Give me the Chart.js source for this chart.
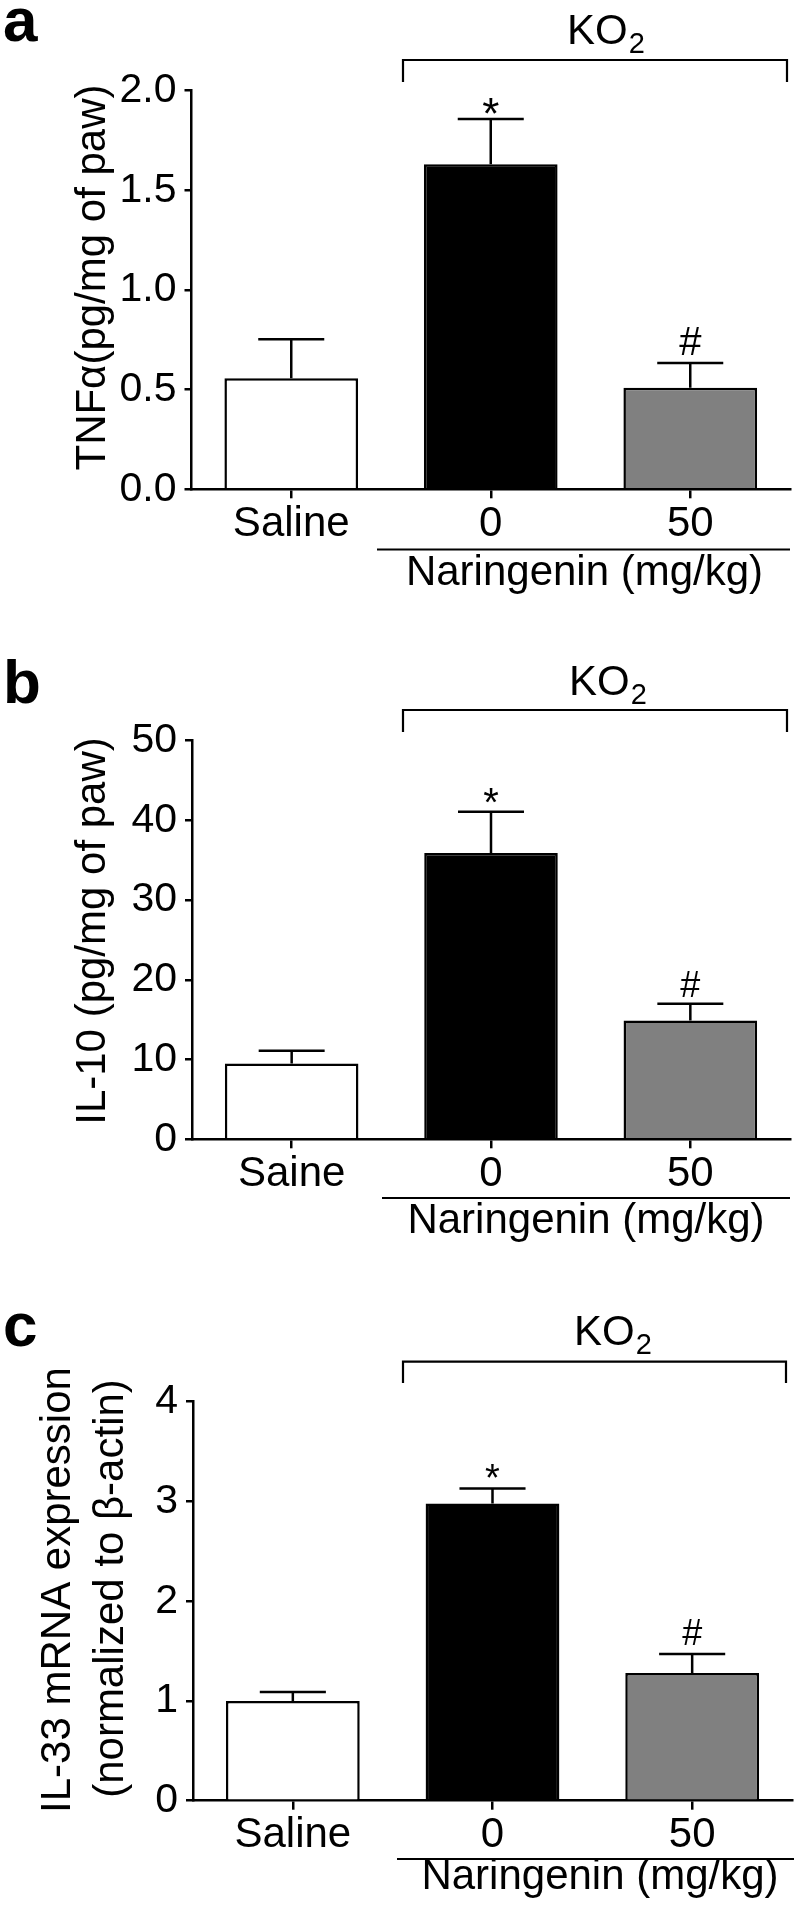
<!DOCTYPE html>
<html><head><meta charset="utf-8">
<script src="https://cdn.jsdelivr.net/npm/chart.js@4.4.1/dist/chart.umd.min.js"></script>
<style>
html,body{margin:0;padding:0;background:#fff;width:800px;height:1909px;overflow:hidden;position:relative;}
canvas{position:absolute;left:0;}
</style></head><body>
<canvas id="ca" width="800" height="650" style="top:0px"></canvas>
<canvas id="cb" width="800" height="661" style="top:650px"></canvas>
<canvas id="cc" width="800" height="598" style="top:1311px"></canvas>
<script>
// ---- data ----
const groupsA = ['Saline', '0', '50'];
const groupsB = ['Saine', '0', '50'];
const groupsC = ['Saline', '0', '50'];
const tnfMean = [0.557, 1.631, 0.510];
const tnfSem  = [0.196, 0.227, 0.124];
const il10Mean = [9.5, 35.9, 14.9];
const il10Sem  = [1.6, 5.2, 2.1];
const il33Mean = [1.0, 2.98, 1.28];
const il33Sem  = [0.09, 0.15, 0.19];
const ticksA = [0, 0.5, 1.0, 1.5, 2.0];
const tickLabelsA = ['0.0', '0.5', '1.0', '1.5', '2.0'];
const ticksB = [0, 10, 20, 30, 40, 50];
const tickLabelsB = ['0', '10', '20', '30', '40', '50'];
const ticksC = [0, 1, 2, 3, 4];
const tickLabelsC = ['0', '1', '2', '3', '4'];
const signif = ['', '*', '#'];
const groupText = 'KO';
const groupSub = '2';
const doseText = 'Naringenin (mg/kg)';

// ---- styles / layout ----
const FONT = '"Liberation Sans", Arial, Helvetica, sans-serif';
const STYLE = { fills: ['#ffffff', '#000000', '#808080'] };

const panels = [
  { id: 'ca', H: 650, letter: 'a', labels: groupsA, mean: tnfMean, sem: tnfSem, ticks: ticksA, tickLabels: tickLabelsA,
    title: ['TNFα(pg/mg of paw)'],
    g: { left: 191.5, right: 790, top: 90.7, bottom: 489.3, letterX: 3, letterY: 41, koX: 567, koBase: 44, brY: 60, brEnd: 82, brL: 403, brR: 787,
         lineY: 549.5, lineL: 377, lineR: 790, doseX: 584.5, doseBase: 585, titleX: [105], titleY: [277.5],
         starSize: 44, starDy: 10, hashSize: 40, hashDy: -8 } },
  { id: 'cb', H: 661, letter: 'b', labels: groupsB, mean: il10Mean, sem: il10Sem, ticks: ticksB, tickLabels: tickLabelsB,
    title: ['IL-10 (pg/mg of paw)'],
    g: { left: 192, right: 790, top: 90.7, bottom: 489.3, letterX: 3, letterY: 53, koX: 569, koBase: 45, brY: 60, brEnd: 82, brL: 403, brR: 787,
         lineY: 548, lineL: 382, lineR: 790, doseX: 586, doseBase: 583, titleX: [105], titleY: [281],
         starSize: 40, starDy: 4, hashSize: 36, hashDy: -7 } },
  { id: 'cc', H: 598, letter: 'c', labels: groupsC, mean: il33Mean, sem: il33Sem, ticks: ticksC, tickLabels: tickLabelsC,
    title: ['IL-33 mRNA expression', '(normalized to β-actin)'],
    g: { left: 193, right: 792, top: 90.7, bottom: 489.7, letterX: 3, letterY: 35, koX: 574, koBase: 34, brY: 50.7, brEnd: 72, brL: 403, brR: 786,
         lineY: 548, lineL: 397, lineR: 794, doseX: 600, doseBase: 578, titleX: [70, 123], titleY: [279, 277.5],
         starSize: 38, starDy: 3, hashSize: 36, hashDy: -9 } }
];

const errPlugin = {
  id: 'errbars',
  afterDatasetsDraw(chart) {
    const P = chart.options.plugins.errbars.panel;
    const g = P.g;
    const ctx = chart.ctx;
    const ys = chart.scales.y;
    const meta = chart.getDatasetMeta(0);
    ctx.save();
    ctx.strokeStyle = '#000';
    ctx.fillStyle = '#000';
    ctx.lineWidth = 2.5;
    meta.data.forEach((bar, i) => {
      const base = ys.getPixelForValue(P.mean[i]);
      const top = ys.getPixelForValue(P.mean[i] + P.sem[i]);
      const half = bar.width * 0.247;
      ctx.beginPath();
      ctx.moveTo(bar.x, base); ctx.lineTo(bar.x, top);
      ctx.moveTo(bar.x - half, top); ctx.lineTo(bar.x + half, top);
      ctx.stroke();
      const m = signif[i];
      if (m) {
        ctx.textAlign = 'center';
        ctx.textBaseline = 'alphabetic';
        if (m === '*') {
          ctx.font = g.starSize + 'px ' + FONT;
          ctx.fillText(m, bar.x, top + g.starDy);
        } else {
          ctx.font = g.hashSize + 'px ' + FONT;
          ctx.fillText(m, bar.x, top + g.hashDy);
        }
      }
    });
    ctx.restore();
  },
  afterDraw(chart) {
    const P = chart.options.plugins.errbars.panel;
    const g = P.g;
    const ctx = chart.ctx;
    ctx.save();
    ctx.fillStyle = '#000';
    ctx.strokeStyle = '#000';
    // panel letter
    ctx.font = 'bold 62px ' + FONT;
    ctx.textAlign = 'left';
    ctx.textBaseline = 'alphabetic';
    ctx.fillText(P.letter, g.letterX, g.letterY);
    // KO2
    ctx.font = '42px ' + FONT;
    ctx.fillText(groupText, g.koX, g.koBase);
    const w = ctx.measureText(groupText).width;
    ctx.font = '29px ' + FONT;
    ctx.fillText(groupSub, g.koX + w + 1, g.koBase + 9);
    // bracket
    ctx.lineWidth = 2.2;
    ctx.beginPath();
    ctx.moveTo(g.brL, g.brEnd); ctx.lineTo(g.brL, g.brY); ctx.lineTo(g.brR, g.brY); ctx.lineTo(g.brR, g.brEnd);
    ctx.stroke();
    // dose line + text
    ctx.beginPath();
    ctx.moveTo(g.lineL, g.lineY); ctx.lineTo(g.lineR, g.lineY);
    ctx.stroke();
    ctx.font = '42px ' + FONT;
    ctx.textAlign = 'center';
    ctx.fillText(doseText, g.doseX, g.doseBase);
    // y title
    ctx.font = '42px ' + FONT;
    P.title.forEach((t, k) => {
      ctx.save();
      ctx.translate(g.titleX[k], g.titleY[k]);
      ctx.rotate(-Math.PI / 2);
      ctx.textAlign = 'center';
      ctx.textBaseline = 'alphabetic';
      ctx.fillText(t, 0, 0);
      ctx.restore();
    });
    ctx.restore();
  }
};

panels.forEach(P => {
  const g = P.g;
  new Chart(document.getElementById(P.id), {
    type: 'bar',
    data: {
      labels: P.labels,
      datasets: [{
        data: P.mean,
        backgroundColor: STYLE.fills,
        borderColor: '#000',
        borderWidth: 2.5,
        borderSkipped: 'start',
        barPercentage: 0.67,
        categoryPercentage: 1.0
      }]
    },
    options: {
      responsive: false,
      animation: false,
      events: [],
      layout: { padding: { top: g.top, right: 800 - g.right, bottom: 0, left: 0 } },
      plugins: {
        legend: { display: false },
        tooltip: { enabled: false },
        errbars: { panel: P }
      },
      scales: {
        x: {
          type: 'category',
          offset: true,
          afterFit(s) { s.height = P.H - g.bottom; },
          grid: { display: true, drawOnChartArea: false, drawTicks: true, tickLength: 9, color: '#000', lineWidth: 2.5, offset: false },
          border: { display: true, color: '#000', width: 2.5 },
          ticks: { color: '#000', font: { family: FONT, size: 42 }, padding: 1, maxRotation: 0, autoSkip: false }
        },
        y: {
          min: P.ticks[0],
          max: P.ticks[P.ticks.length - 1],
          afterFit(s) { s.width = g.left; },
          afterBuildTicks(s) { s.ticks = P.ticks.map(v => ({ value: v })); },
          grid: { display: true, drawOnChartArea: false, drawTicks: true, tickLength: 7, color: '#000', lineWidth: 2.5 },
          border: { display: true, color: '#000', width: 2.5 },
          ticks: { color: '#000', font: { family: FONT, size: 41 }, padding: 8,
                   callback: (v, i) => P.tickLabels[i] }
        }
      }
    },
    plugins: [errPlugin]
  });
});
</script>
</body></html>
